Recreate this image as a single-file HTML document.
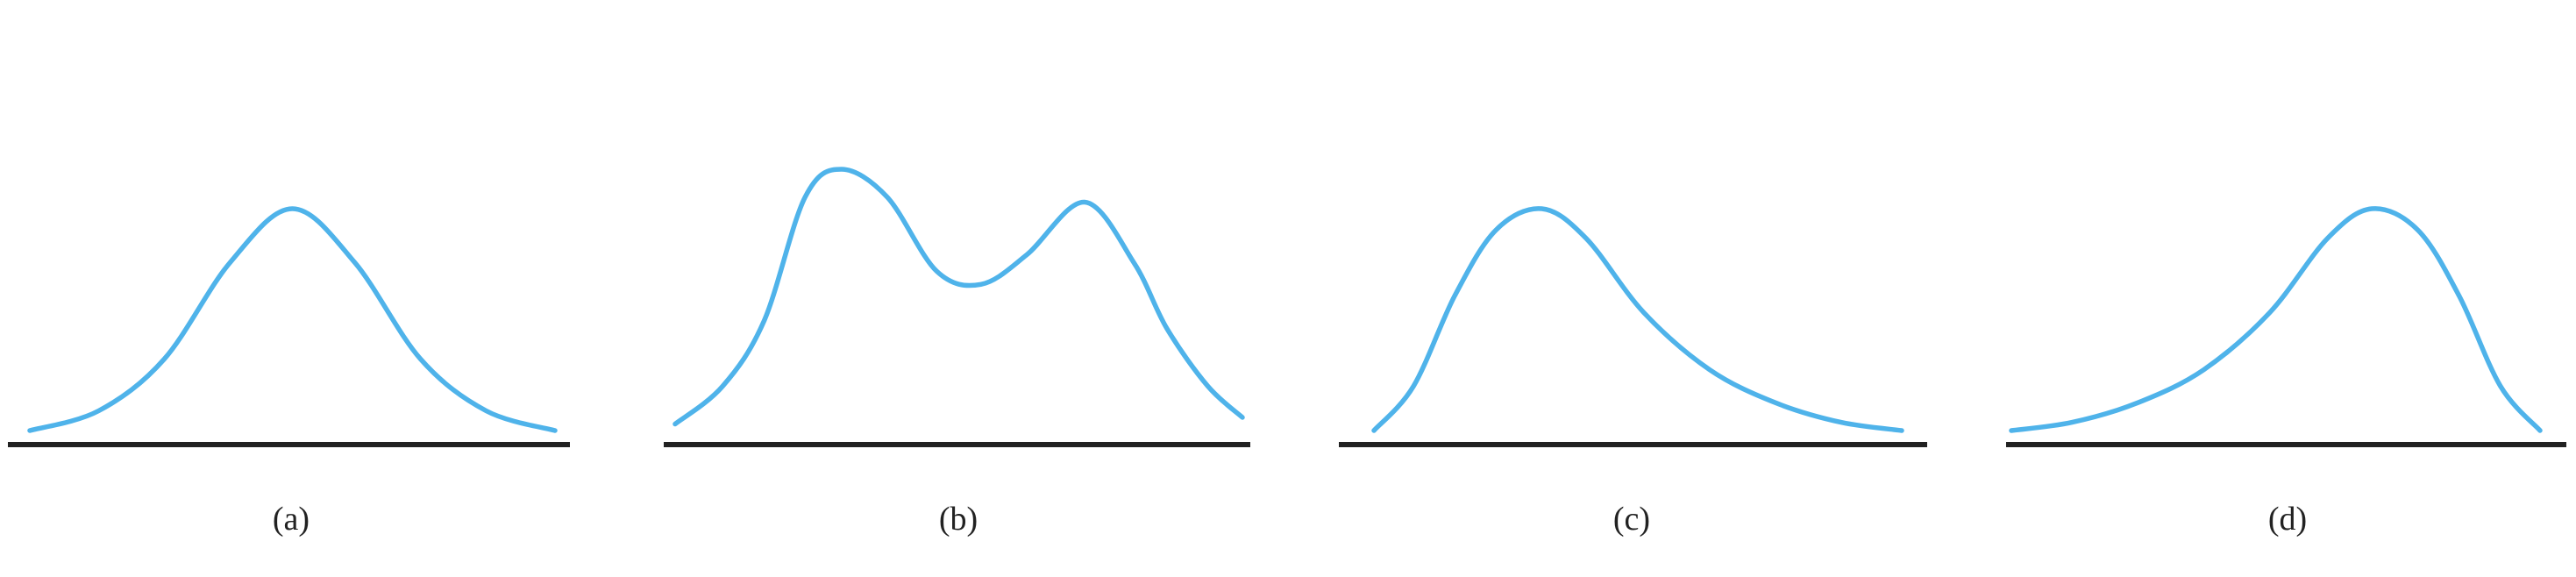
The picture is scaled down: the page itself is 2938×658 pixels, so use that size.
<!DOCTYPE html>
<html><head><meta charset="utf-8"><style>
html,body{margin:0;padding:0;background:#fff;}
svg{display:block;}
</style></head><body>
<svg id="chart" width="2938" height="658" viewBox="0 0 2938 658" xmlns="http://www.w3.org/2000/svg">
</svg>
<script>
// Panel labels
const panelLabels = ["(a)", "(b)", "(c)", "(d)"];
// Normalized x positions (0..1 along each curve's span)
const xsA = [0, .131, .256, .381, .5, .619, .744, .869, 1];
const ysA = [0.056, 0.14, 0.36, 0.77, 1, 0.77, 0.36, 0.14, 0.056];
const xsB = [0, .084, .157, .229, .293, .374, .461, .539, .62, .722, .809, .867, .939, 1];
const ysB = [0.084, 0.245, 0.524, 1.049, 1.168, 1.049, 0.734, 0.678, 0.804, 1.028, 0.769, 0.49, 0.245, 0.112];
const xsC = [0, .075, .153, .231, .318, .402, .511, .636, .76, .885, 1];
const ysC = [0.056, 0.245, 0.629, 0.909, 1, 0.874, 0.559, 0.315, 0.175, 0.091, 0.056];
const xsD = [0, .115, .24, .364, .489, .598, .682, .769, .847, .925, 1];
const ysD = [0.056, 0.091, 0.175, 0.315, 0.559, 0.874, 1, 0.909, 0.629, 0.245, 0.056];

const NS = "http://www.w3.org/2000/svg";
const svg = document.getElementById("chart");
const panels = [
  {xs: xsA, ys: ysA, c0: 34, c1: 633, a0: 9, a1: 650, lx: 332},
  {xs: xsB, ys: ysB, c0: 770, c1: 1417, a0: 757, a1: 1426, lx: 1093},
  {xs: xsC, ys: ysC, c0: 1567, c1: 2169, a0: 1527, a1: 2198, lx: 1861},
  {xs: xsD, ys: ysD, c0: 2294, c1: 2897, a0: 2288, a1: 2927, lx: 2609}
];
const baseY = 506, unit = 268;
function yScale(v){ return baseY - v*unit; }
function xScale(p, t){ return p.c0 + t*(p.c1 - p.c0); }

function smoothPath(pts){
  let d = "M" + pts[0][0].toFixed(1) + "," + pts[0][1].toFixed(1);
  for (let i = 0; i < pts.length - 1; i++) {
    const p0 = pts[i-1] || pts[i], p1 = pts[i], p2 = pts[i+1], p3 = pts[i+2] || p2;
    const c1x = p1[0] + (p2[0]-p0[0])/6, c1y = p1[1] + (p2[1]-p0[1])/6;
    const c2x = p2[0] - (p3[0]-p1[0])/6, c2y = p2[1] - (p3[1]-p1[1])/6;
    d += " C" + c1x.toFixed(1) + "," + c1y.toFixed(1) + " " + c2x.toFixed(1) + "," + c2y.toFixed(1) + " " + p2[0].toFixed(1) + "," + p2[1].toFixed(1);
  }
  return d;
}

panels.forEach((p, i) => {
  const letter = "abcd"[i];
  const axis = document.createElementNS(NS, "line");
  axis.setAttribute("x1", p.a0); axis.setAttribute("x2", p.a1);
  axis.setAttribute("y1", 507); axis.setAttribute("y2", 507);
  axis.setAttribute("stroke", "#222"); axis.setAttribute("stroke-width", 6);
  
  
  svg.appendChild(axis);

  const pts = p.xs.map((t, k) => [xScale(p, t), yScale(p.ys[k])]);
  const path = document.createElementNS(NS, "path");
  path.setAttribute("d", smoothPath(pts));
  path.setAttribute("fill", "none");
  path.setAttribute("stroke", "#4fb3ea");
  path.setAttribute("stroke-width", 5.5);
  path.setAttribute("stroke-linecap", "round");
  
  
  svg.appendChild(path);

  const tx = document.createElementNS(NS, "text");
  tx.setAttribute("x", p.lx); tx.setAttribute("y", 604);
  tx.setAttribute("text-anchor", "middle");
  tx.setAttribute("font-family", "Liberation Serif, serif");
  tx.setAttribute("font-size", 38);
  tx.setAttribute("fill", "#222");
  tx.textContent = panelLabels[i];
  
  
  svg.appendChild(tx);
});
</script>
</body></html>
